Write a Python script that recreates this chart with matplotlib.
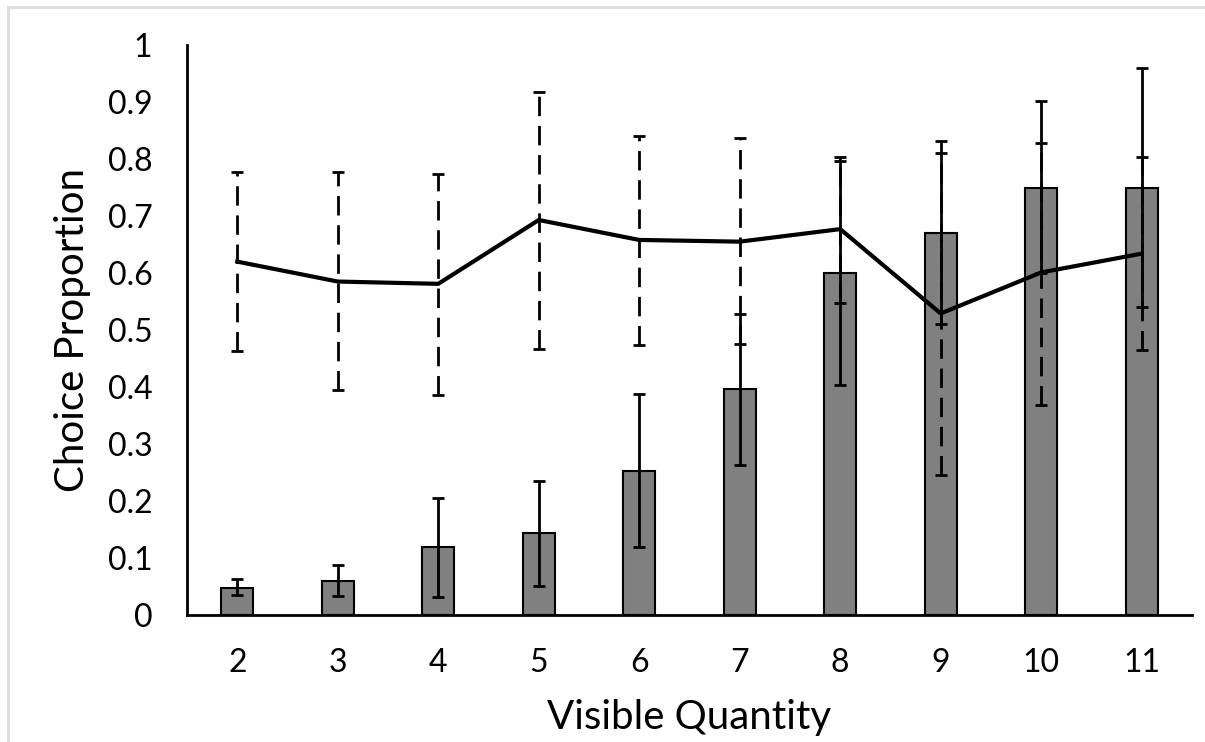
import matplotlib.pyplot as plt
from matplotlib.lines import Line2D
import numpy as np

plt.rcParams['font.family'] = ['Lato', 'DejaVu Sans']

categories = ['2', '3', '4', '5', '6', '7', '8', '9', '10', '11']

# bars (choice proportion) with solid error bars
bar_vals = [0.047, 0.060, 0.119, 0.143, 0.253, 0.396, 0.600, 0.671, 0.749, 0.749]
bar_lo = [0.035, 0.034, 0.032, 0.051, 0.119, 0.264, 0.404, 0.511, 0.600, 0.540]
bar_hi = [0.063, 0.087, 0.205, 0.235, 0.387, 0.528, 0.804, 0.831, 0.902, 0.960]

# line with dashed error bars
line_vals = [0.620, 0.585, 0.581, 0.693, 0.658, 0.655, 0.677, 0.529, 0.601, 0.634]
line_lo = [0.464, 0.395, 0.386, 0.467, 0.474, 0.475, 0.548, 0.246, 0.369, 0.465]
line_hi = [0.777, 0.777, 0.774, 0.917, 0.840, 0.837, 0.797, 0.810, 0.828, 0.803]

x = np.arange(len(categories))
bar_vals = np.array(bar_vals)
line_vals = np.array(line_vals)

fig = plt.figure(figsize=(12.05, 7.42), dpi=100)
ax = fig.add_axes([187 / 1205, 1 - 615 / 742, (1192 - 187) / 1205, (615 - 45) / 742])

ax.bar(x, bar_vals, width=0.32, color='#808080', edgecolor='black', linewidth=1.5, zorder=2)

bar_err = [bar_vals - np.array(bar_lo), np.array(bar_hi) - bar_vals]
ax.errorbar(x, bar_vals, yerr=bar_err, fmt='none', ecolor='black',
            elinewidth=2, capsize=4, capthick=2, zorder=3)

line_err = [line_vals - np.array(line_lo), np.array(line_hi) - line_vals]
eb = ax.errorbar(x, line_vals, yerr=line_err, fmt='none', ecolor='black',
                 elinewidth=2, capsize=4, capthick=2, zorder=3)
eb[2][0].set_linestyle((0, (7, 3.5)))

ax.plot(x, line_vals, color='black', linewidth=3, zorder=4)

ax.set_xlim(-0.5, len(categories) - 0.5)
ax.set_ylim(0, 1)
ax.set_xticks(x)
ax.set_xticklabels(categories)
ax.set_yticks(np.arange(0, 1.01, 0.1))
ax.set_yticklabels(['0'] + ['%.1f' % v for v in np.arange(0.1, 0.95, 0.1)] + ['1'])
ax.tick_params(length=0, labelsize=23)
ax.tick_params(axis='y', pad=25)
ax.tick_params(axis='x', pad=24)

for s in ['top', 'right']:
    ax.spines[s].set_visible(False)
for s in ['left', 'bottom']:
    ax.spines[s].set_linewidth(2)

ax.set_xlabel('Visible Quantity', fontsize=29, labelpad=15)
ax.set_ylabel('Choice Proportion', fontsize=29, labelpad=12)

# light frame around the chart area
fig.add_artist(Line2D([8 / 1205, 8 / 1205], [0, 1 - 7 / 742], transform=fig.transFigure,
                      color='#dddddd', linewidth=2))
fig.add_artist(Line2D([8 / 1205, 1], [1 - 7 / 742, 1 - 7 / 742], transform=fig.transFigure,
                      color='#dddddd', linewidth=2))

fig.savefig('out.png', dpi=100)
